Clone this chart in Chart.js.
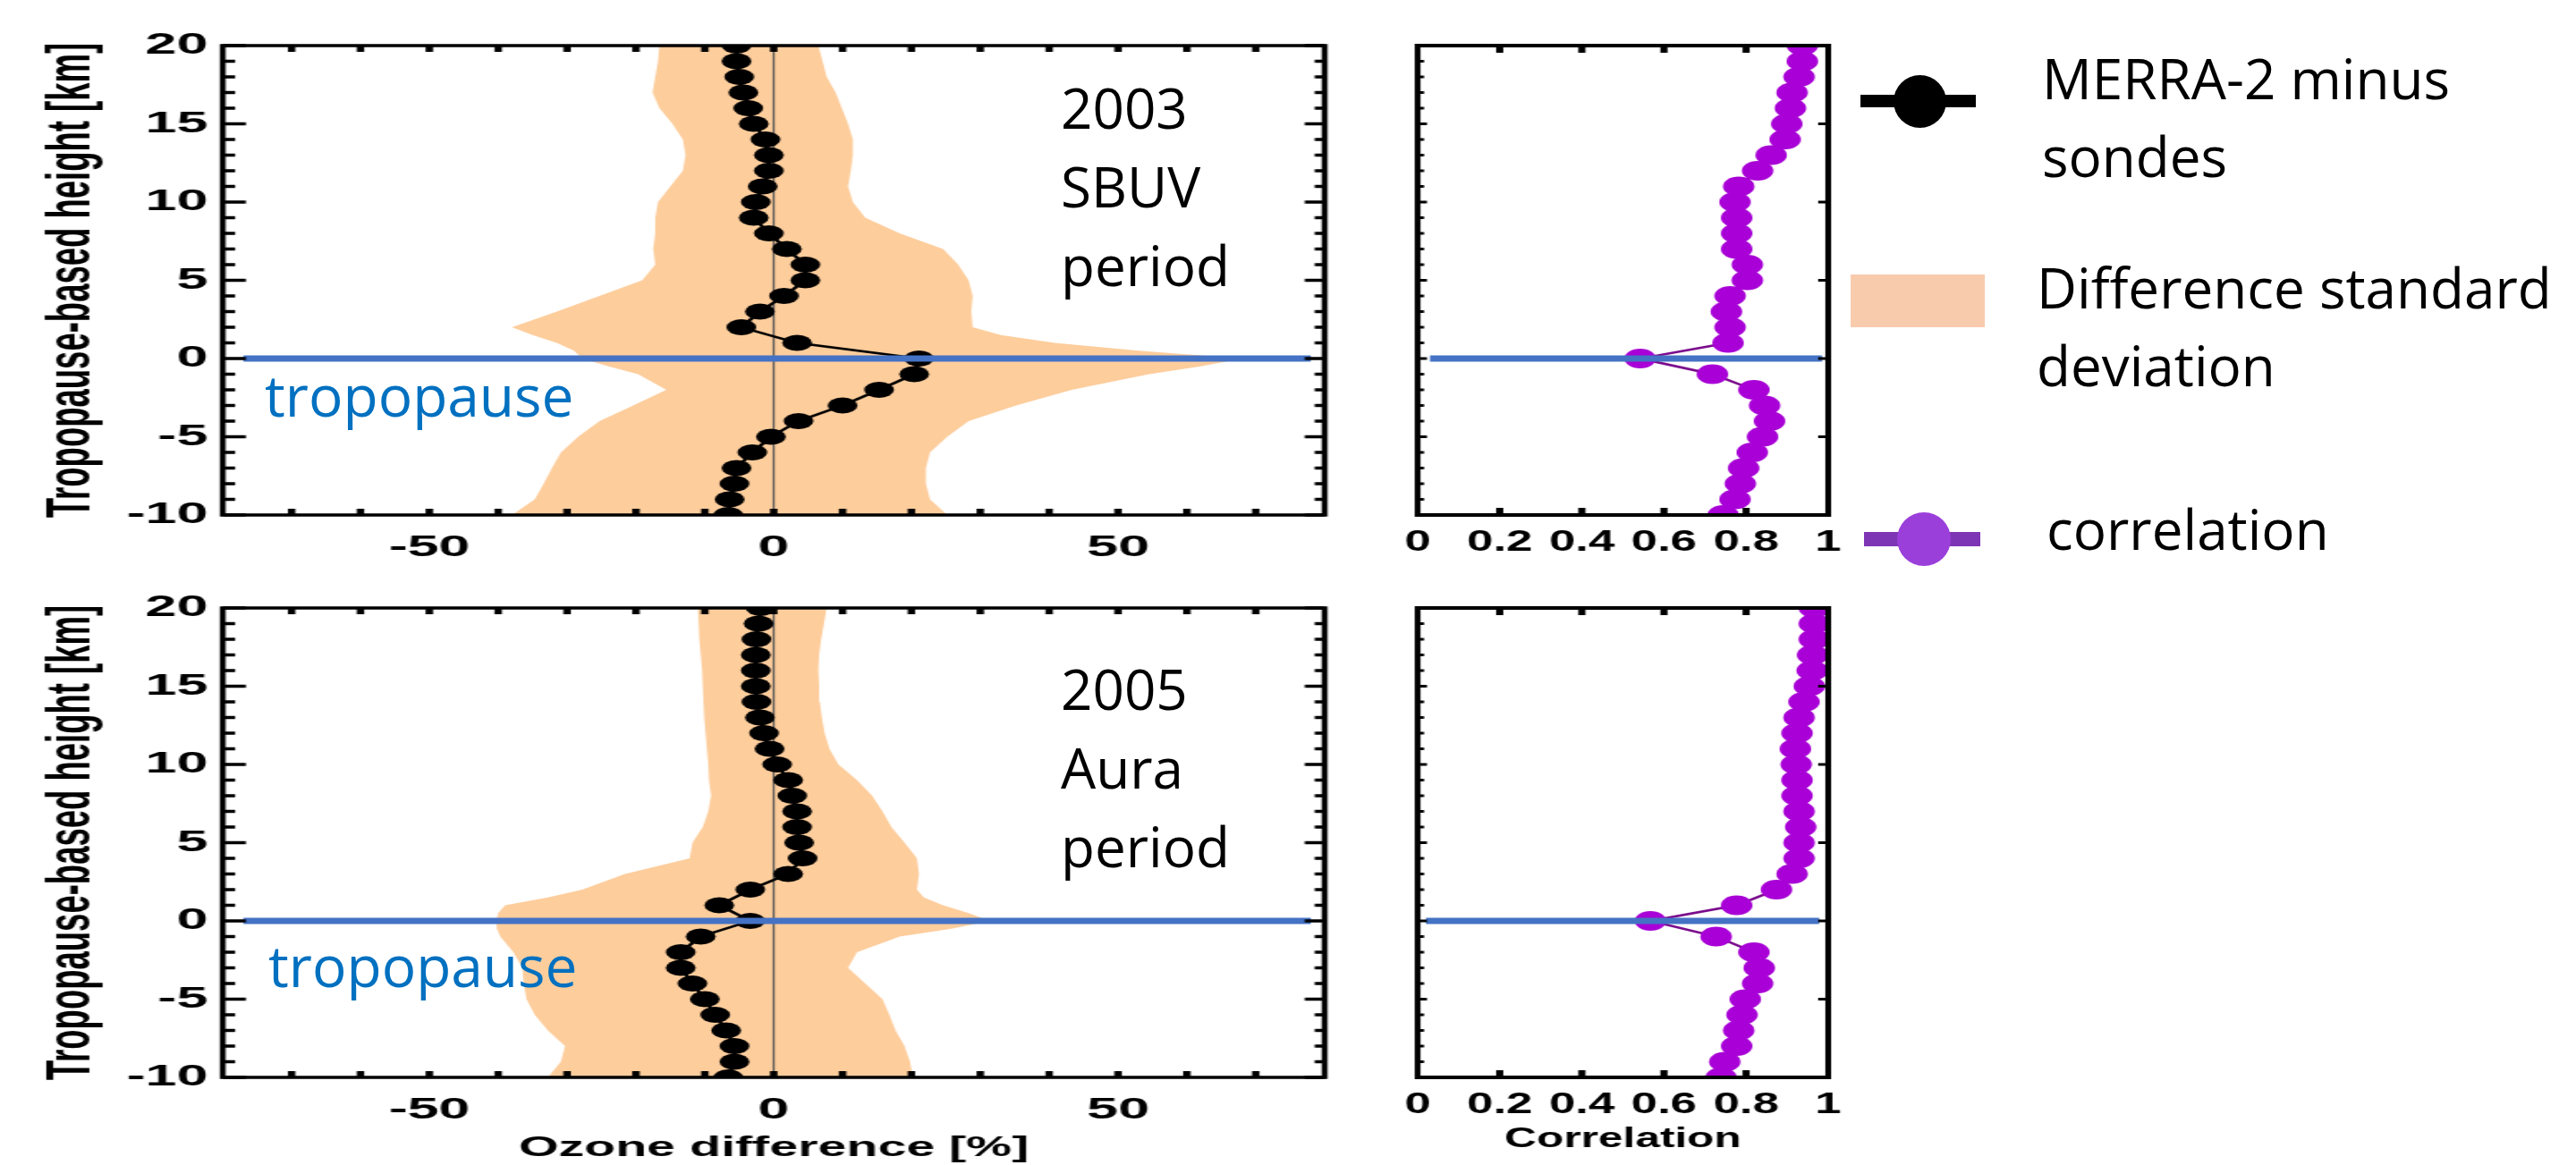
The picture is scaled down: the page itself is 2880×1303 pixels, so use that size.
<!DOCTYPE html>
<html>
<head>
<meta charset="utf-8">
<title>MERRA-2 minus sondes</title>
<script src="https://cdn.jsdelivr.net/npm/chart.js@4.4.1/dist/chart.umd.min.js"></script>
<style>
  html, body { margin: 0; padding: 0; background: #fff; }
  body { width: 2880px; height: 1303px; position: relative; overflow: hidden; font-family: 'Open Sans', 'Noto Sans', sans-serif; }
  .stretch { position: absolute; transform-origin: 0 0; }
  .stretch canvas { display: block; }
  .note { position: absolute; font-size: 62px; line-height: 88px; color: #000; white-space: nowrap; }
  .tropo { position: absolute; font-size: 64px; line-height: 88px; color: #0070C0; white-space: nowrap; }
  .leg-text { position: absolute; font-size: 62px; line-height: 87px; color: #000; white-space: nowrap; }
  .shape { position: absolute; }
</style>
</head>
<body>

<!-- paneles de la izquierda: estirados en horizontal como la figura original -->
<div class="stretch" style="left:0;top:0;transform:scaleX(1.85)"><canvas id="ozone-2003" width="832" height="640"></canvas></div>
<div class="stretch" style="left:0;top:640px;transform:scaleX(1.85)"><canvas id="ozone-2005" width="832" height="663"></canvas></div>
<div class="stretch" style="left:1540px;top:0;transform:scaleX(1.6)"><canvas id="corr-2003" width="338" height="640"></canvas></div>
<div class="stretch" style="left:1540px;top:640px;transform:scaleX(1.6)"><canvas id="corr-2005" width="338" height="663"></canvas></div>

<div class="note" style="left:1186px;top:76px">2003<br>SBUV<br>period</div>
<div class="note" style="left:1186px;top:726px">2005<br>Aura<br>period</div>
<div class="tropo" style="left:296px;top:398px">tropopause</div>
<div class="tropo" style="left:300px;top:1036px">tropopause</div>

<!-- leyenda -->
<div class="shape" style="left:2080px;top:106px;width:129px;height:14px;background:#000"></div>
<div class="shape" style="left:2117px;top:84px;width:59px;height:59px;border-radius:50%;background:#000"></div>
<div class="leg-text" style="left:2283px;top:44px">MERRA-2 minus<br>sondes</div>
<div class="shape" style="left:2069px;top:307px;width:150px;height:59px;background:#F8CBAD"></div>
<div class="leg-text" style="left:2277px;top:278px">Difference standard<br>deviation</div>
<div class="shape" style="left:2084px;top:595px;width:130px;height:16px;background:#7E35B5"></div>
<div class="shape" style="left:2121px;top:573px;width:60px;height:60px;border-radius:50%;background:#9B3FDB"></div>
<div class="leg-text" style="left:2288px;top:548px">correlation</div>

<script>
// Perfiles MERRA-2 menos ozonosondas, altura relativa a la tropopausa

// alturas de los marcadores (km)
const heights = [-10, -9, -8, -7, -6, -5, -4, -3, -2, -1, 0, 1, 2, 3, 4, 5, 6, 7, 8, 9, 10,
                 11, 12, 13, 14, 15, 16, 17, 18, 19, 20];

// alturas de la banda de desviación estándar (más fina cerca de la tropopausa)
const bandHeights = [-10, -9, -8, -7, -6, -5, -4, -3, -2, -1, -0.5, 0, 0.5, 1, 1.5, 2, 3, 4, 5, 6, 7,
                     8, 9, 10, 11, 12, 13, 14, 15, 16, 17, 18, 19, 20];

// 2003 - periodo SBUV
const diff2003 = [-6.6, -6.4, -5.7, -5.4, -3.1, -0.4, 3.6, 10.0, 15.3, 20.4, 21.1, 3.4, -4.7, -2.0, 1.5,
                  4.6, 4.6, 1.9, -0.7, -2.9, -2.6, -1.6, -0.7, -0.7, -1.2, -2.9, -3.7, -4.4, -5.0, -5.4, -5.4];
const sdLow2003 = [-38.0, -34.7, -33.4, -32.2, -30.9, -28.4, -25.3, -20.4, -15.6, -19.7, -24.0, -27.8, -29.0,
                   -31.5, -35.0, -38.0, -31.5, -25.3, -19.1, -17.2, -17.5, -17.2, -17.2, -16.8, -15.0, -13.2,
                   -12.8, -13.2, -14.7, -16.6, -17.6, -17.2, -16.8, -16.6];
const sdHigh2003 = [25.2, 22.7, 22.1, 22.1, 22.7, 25.2, 28.3, 35.2, 43.3, 54.5, 62.0, 68.0, 53.0, 40.8, 33.0,
                    28.9, 28.7, 28.9, 28.3, 26.8, 24.6, 18.3, 13.3, 11.5, 10.8, 11.2, 11.5, 11.5, 10.8, 9.9,
                    9.0, 7.7, 7.1, 6.5];
const corr2003 = [0.744, 0.773, 0.786, 0.794, 0.815, 0.840, 0.857, 0.845, 0.819, 0.718, 0.542, 0.756, 0.761,
                  0.752, 0.761, 0.803, 0.803, 0.777, 0.777, 0.777, 0.773, 0.782, 0.828, 0.861, 0.895, 0.899,
                  0.908, 0.912, 0.929, 0.937, 0.937];

// 2005 - periodo Aura
const diff2005 = [-6.6, -5.7, -5.7, -6.9, -8.5, -10.0, -11.8, -13.5, -13.5, -10.6, -3.4, -7.9, -3.4, 2.1, 4.2,
                  3.7, 3.4, 3.4, 2.7, 2.1, 0.5, -0.6, -1.4, -2.0, -2.5, -2.6, -2.6, -2.6, -2.5, -2.2, -1.9];
const sdLow2005 = [-32.8, -30.9, -30.3, -32.8, -34.7, -35.9, -36.3, -36.5, -37.8, -39.7, -40.2, -40.3, -40.0,
                   -39.0, -32.8, -27.8, -21.6, -12.2, -11.8, -10.3, -9.5, -9.1, -9.4, -9.5, -9.7, -9.9, -10.1,
                   -10.2, -10.3, -10.4, -10.6, -10.8, -10.9, -11.0];
const sdHigh2005 = [20.2, 19.8, 19.0, 17.7, 16.8, 15.8, 13.3, 10.8, 12.1, 18.3, 25.8, 31.4, 28.3, 24.6, 21.8,
                    20.8, 21.1, 20.8, 19.0, 17.1, 15.8, 14.3, 12.1, 9.4, 8.1, 7.4, 7.0, 6.7, 6.6, 6.5, 6.6,
                    6.9, 7.3, 7.7];
const corr2005 = [0.739, 0.748, 0.777, 0.782, 0.790, 0.798, 0.828, 0.832, 0.819, 0.727, 0.567, 0.777, 0.874,
                  0.912, 0.929, 0.929, 0.933, 0.929, 0.924, 0.924, 0.922, 0.920, 0.924, 0.929, 0.941, 0.954,
                  0.961, 0.962, 0.966, 0.966, 0.966];

// ejes
const ozoneTicks = [-50, 0, 50];
const heightTicks = [-10, -5, 0, 5, 10, 15, 20];
const corrTicks = [0, 0.2, 0.4, 0.6, 0.8, 1];
const tropoOzone = [-77, 78];
const tropoCorr2003 = [0.03, 0.985];
const tropoCorr2005 = [0.02, 0.978];

const BAND = '#FDCD9C';
const BLUE = '#4472C4';

Chart.defaults.font.family = "'Liberation Sans', Arial, sans-serif";
Chart.defaults.color = '#000';

const pts = (xs, ys) => xs.map((x, i) => ({ x, y: ys[i] }));

// marco estilo IDL con marcas hacia dentro
const idlFrame = {
    id: 'idlFrame',
    afterDatasetsDraw(chart, args, o) {
        const { ctx, chartArea: a } = chart;
        const xs = chart.scales.x, ys = chart.scales.y;
        ctx.save();
        ctx.strokeStyle = '#000';
        ctx.lineCap = 'butt';

        ctx.lineWidth = o.yTickWidth;
        ctx.beginPath();
        for (let v = ys.min; v <= ys.max; v++) {
            const py = ys.getPixelForValue(v);
            const major = v % 5 === 0;
            const l = major ? o.yMajorLeft : o.yMinorLeft;
            const r = major ? o.yMajorRight : o.yMinorRight;
            if (l) { ctx.moveTo(a.left, py); ctx.lineTo(a.left + l, py); }
            if (r) { ctx.moveTo(a.right, py); ctx.lineTo(a.right - r, py); }
        }
        ctx.stroke();

        ctx.lineWidth = o.xTickWidth;
        ctx.beginPath();
        o.xTicks.forEach(v => {
            const px = xs.getPixelForValue(v);
            ctx.moveTo(px, a.top); ctx.lineTo(px, a.top + o.xTickLen);
            ctx.moveTo(px, a.bottom); ctx.lineTo(px, a.bottom - o.xTickLen);
        });
        ctx.stroke();

        ctx.lineWidth = o.frameWidth;
        ctx.strokeRect(a.left, a.top, a.right - a.left, a.bottom - a.top);
        ctx.restore();
    }
};

function ozoneChart(id, diff, low, high, top, xAxisHeight, withTitle) {
    const ctx = document.getElementById(id).getContext('2d');
    const minorX = [];
    for (let v = -70; v <= 70; v += 10) minorX.push(v);

    return new Chart(ctx, {
        type: 'line',
        data: {
            datasets: [
                { data: pts(low, bandHeights), borderWidth: 0, pointRadius: 0, fill: false, order: 4 },
                { data: pts(high, bandHeights), borderWidth: 0, pointRadius: 0, fill: '-1', backgroundColor: BAND, order: 4 },
                { data: [{ x: 0, y: -10 }, { x: 0, y: 20 }], borderColor: '#555', borderWidth: 1.2, pointRadius: 0, order: 3 },
                { data: pts(diff, heights), borderColor: '#000', borderWidth: 2.5, pointRadius: 9,
                  pointBackgroundColor: '#000', pointBorderWidth: 0, order: 1 },
                { data: pts(tropoOzone, [0, 0]), borderColor: BLUE, borderWidth: 7, pointRadius: 0, order: 0 }
            ]
        },
        options: {
            responsive: false,
            devicePixelRatio: 1,
            animation: false,
            indexAxis: 'y',
            layout: { padding: { left: 0, right: 31.5, top: top, bottom: 0 } },
            plugins: {
                legend: { display: false },
                tooltip: { enabled: false },
                idlFrame: { xTicks: minorX, xTickLen: 7, xTickWidth: 4.5, yTickWidth: 3.5,
                            yMajorLeft: 14, yMinorLeft: 7.5, yMajorRight: 12, yMinorRight: 6, frameWidth: 3.5 }
            },
            scales: {
                x: {
                    type: 'linear', min: -80, max: 80,
                    grid: { display: false, drawTicks: false },
                    border: { display: false },
                    afterBuildTicks: s => { s.ticks = ozoneTicks.map(v => ({ value: v })); },
                    afterFit: s => { s.height = xAxisHeight; },
                    ticks: { font: { size: 34, weight: 'bold' }, padding: 16 },
                    title: { display: withTitle, text: 'Ozone difference [%]',
                             font: { size: 31, weight: 'bold' }, padding: { top: 0, bottom: 0 } }
                },
                y: {
                    type: 'linear', min: -10, max: 20,
                    grid: { display: false, drawTicks: false },
                    border: { display: false },
                    afterBuildTicks: s => { s.ticks = heightTicks.map(v => ({ value: v })); },
                    afterFit: s => { s.width = 134.6; },
                    ticks: { font: { size: 34, weight: 'bold' }, padding: 9 },
                    title: { display: true, text: 'Tropopause-based height [km]',
                             font: { size: 36.5, weight: 'bold' }, padding: { top: 22, bottom: 0 } }
                }
            }
        },
        plugins: [idlFrame]
    });
}

function corrChart(id, corr, tropo, top, xAxisHeight, withTitle) {
    const ctx = document.getElementById(id).getContext('2d');
    return new Chart(ctx, {
        type: 'line',
        data: {
            datasets: [
                { data: pts(corr, heights), borderColor: '#7A0A8C', borderWidth: 2.5, pointRadius: 11,
                  pointBackgroundColor: '#A800D6', pointBorderWidth: 0, order: 1 },
                { data: pts(tropo, [0, 0]), borderColor: BLUE, borderWidth: 7, pointRadius: 0, order: 0 }
            ]
        },
        options: {
            responsive: false,
            devicePixelRatio: 1,
            animation: false,
            indexAxis: 'y',
            layout: { padding: { left: 28.1, right: 23, top: top, bottom: 0 } },
            plugins: {
                legend: { display: false },
                tooltip: { enabled: false },
                idlFrame: { xTicks: [0.2, 0.4, 0.6, 0.8], xTickLen: 8, xTickWidth: 5, yTickWidth: 3,
                            yMajorLeft: 6.5, yMinorLeft: 4.5, yMajorRight: 7, yMinorRight: 0, frameWidth: 4 }
            },
            scales: {
                x: {
                    type: 'linear', min: 0, max: 1,
                    grid: { display: false, drawTicks: false },
                    border: { display: false },
                    afterBuildTicks: s => { s.ticks = corrTicks.map(v => ({ value: v })); },
                    afterFit: s => { s.height = xAxisHeight; },
                    ticks: { font: { size: 33, weight: 'bold' }, padding: 11,
                             callback: v => String(+Number(v).toFixed(1)) },
                    title: { display: withTitle, text: 'Correlation',
                             font: { size: 31, weight: 'bold' }, padding: { top: 0, bottom: 10 } }
                },
                y: { type: 'linear', min: -10, max: 20, display: false }
            }
        },
        plugins: [idlFrame]
    });
}

ozoneChart('ozone-2003', diff2003, sdLow2003, sdHigh2003, 51, 64, false);
ozoneChart('ozone-2005', diff2005, sdLow2005, sdHigh2005, 40, 98, true);
corrChart('corr-2003', corr2003, tropoCorr2003, 51, 64, false);
corrChart('corr-2005', corr2005, tropoCorr2005, 40, 98, true);
</script>
</body>
</html>
